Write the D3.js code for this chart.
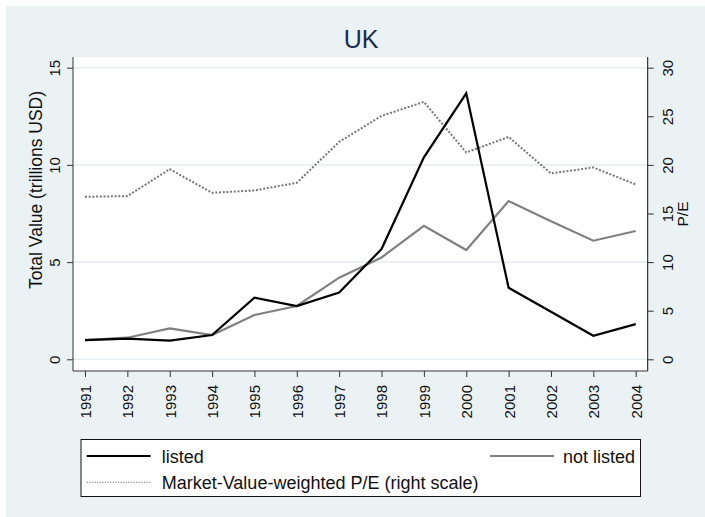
<!DOCTYPE html>
<html>
<head>
<meta charset="utf-8">
<script src="https://cdn.jsdelivr.net/npm/d3@7"></script>
<style>
  html, body { margin: 0; padding: 0; background: #ffffff; }
  svg { display: block; }
  text { font-family: "Liberation Sans", Arial, Helvetica, sans-serif; }
</style>
</head>
<body>
<svg id="chart" width="705" height="517"></svg>
<script>
// ---- data ----
const years = [1991, 1992, 1993, 1994, 1995, 1996, 1997, 1998, 1999, 2000, 2001, 2002, 2003, 2004];
const listed = [0.99, 1.06, 0.96, 1.25, 3.17, 2.74, 3.44, 5.67, 10.39, 13.68, 3.68, 2.45, 1.21, 1.81];
const notListed = [0.99, 1.11, 1.59, 1.25, 2.28, 2.74, 4.20, 5.24, 6.87, 5.62, 8.14, 7.10, 6.10, 6.60];
const peRatio = [16.72, 16.79, 19.56, 17.13, 17.37, 18.16, 22.37, 25.04, 26.48, 21.28, 22.88, 19.12, 19.74, 17.99];
const leftTicks = [0, 5, 10, 15];
const rightTicks = [0, 5, 10, 15, 20, 25, 30];
const chartTitle = "UK";
const leftTitle = "Total Value (trillions USD)";
const rightTitle = "P/E";
const legendLabels = ["listed", "not listed", "Market-Value-weighted P/E (right scale)"];

// ---- layout ----
const svg = d3.select("#chart");
const plot = { left: 73, right: 647.7, top: 57, bottom: 371 };
const xPad = 12;

svg.append("rect").attr("x", 6).attr("y", 6).attr("width", 699).attr("height", 511).attr("fill", "#eaf2f3");
svg.append("rect").attr("x", plot.left).attr("y", plot.top)
  .attr("width", plot.right - plot.left).attr("height", plot.bottom - plot.top).attr("fill", "#ffffff");

const x = d3.scaleLinear().domain([d3.min(years), d3.max(years)]).range([plot.left + xPad, plot.right - xPad]);
const yL = d3.scaleLinear().domain([0, 15]).range([359.3, 67.7]);
const yR = d3.scaleLinear().domain([0, 30]).range([359.3, 67.7]);

// gridlines
svg.append("g").selectAll("line").data(leftTicks).join("line")
  .attr("x1", plot.left).attr("x2", plot.right)
  .attr("y1", d => yL(d)).attr("y2", d => yL(d))
  .attr("stroke", "#e5eef2").attr("stroke-width", 1.5);

// title
svg.append("text").attr("x", 361).attr("y", 48).attr("text-anchor", "middle")
  .attr("font-size", 25).attr("fill", "#1c2b50").text(chartTitle);

function styleAxis(g) {
  g.select(".domain").remove();
  g.selectAll(".tick line").attr("stroke", "#333").attr("stroke-width", 1);
  g.selectAll(".tick text").attr("font-size", 15).attr("fill", "#111");
}

// left axis
const gL = svg.append("g").attr("transform", `translate(${plot.left},0)`)
  .call(d3.axisLeft(yL).tickValues(leftTicks).tickSize(6).tickFormat(d3.format("d")));
styleAxis(gL);
gL.selectAll(".tick text").attr("x", null).attr("dy", null).attr("text-anchor", "middle")
  .attr("transform", "translate(-13.5,0) rotate(-90)");
gL.append("line").attr("x1", 0).attr("x2", 0).attr("y1", plot.top).attr("y2", plot.bottom)
  .attr("stroke", "#333").attr("stroke-width", 1);

// right axis
const gR = svg.append("g").attr("transform", `translate(${plot.right},0)`)
  .call(d3.axisRight(yR).tickValues(rightTicks).tickSize(6).tickFormat(d3.format("d")));
styleAxis(gR);
gR.selectAll(".tick text").attr("x", null).attr("dy", null).attr("text-anchor", "middle")
  .attr("transform", "translate(25,0) rotate(-90)");
gR.append("line").attr("x1", 0).attr("x2", 0).attr("y1", plot.top).attr("y2", plot.bottom)
  .attr("stroke", "#111").attr("stroke-width", 1);

// bottom axis
const gB = svg.append("g").attr("transform", `translate(0,${plot.bottom})`)
  .call(d3.axisBottom(x).tickValues(years).tickSize(6).tickFormat(d3.format("d")));
styleAxis(gB);
gB.selectAll(".tick text").attr("y", null).attr("dy", null).attr("text-anchor", "end")
  .attr("transform", "translate(5.4,14) rotate(-90)");
gB.append("line").attr("x1", plot.left).attr("x2", plot.right).attr("y1", 0).attr("y2", 0)
  .attr("stroke", "#333").attr("stroke-width", 1);

// axis titles
svg.append("text").attr("transform", "translate(41.8,190) rotate(-90)")
  .attr("text-anchor", "middle").attr("font-size", 17.5).attr("fill", "#111").text(leftTitle);
svg.append("text").attr("transform", "translate(688,214) rotate(-90)")
  .attr("text-anchor", "middle").attr("font-size", 15.5).attr("fill", "#111").text(rightTitle);

// lines
const lineL = d3.line().x((d, i) => x(years[i])).y(d => yL(d));
const lineR = d3.line().x((d, i) => x(years[i])).y(d => yR(d));

svg.append("path").datum(peRatio).attr("d", lineR).attr("fill", "none")
  .attr("stroke", "#777").attr("stroke-width", 2).attr("stroke-dasharray", "2,1.7");
svg.append("path").datum(notListed).attr("d", lineL).attr("fill", "none")
  .attr("stroke", "#808080").attr("stroke-width", 2.2).attr("stroke-linejoin", "miter");
svg.append("path").datum(listed).attr("d", lineL).attr("fill", "none")
  .attr("stroke", "#000").attr("stroke-width", 2.2).attr("stroke-linejoin", "miter");

// legend
const lg = svg.append("g");
lg.append("rect").attr("x", 81).attr("y", 439.5).attr("width", 559.5).attr("height", 57)
  .attr("fill", "#fff").attr("stroke", "#111").attr("stroke-width", 1);
lg.append("line").attr("x1", 86.7).attr("x2", 150.7).attr("y1", 456).attr("y2", 456)
  .attr("stroke", "#000").attr("stroke-width", 2);
lg.append("text").attr("x", 161.7).attr("y", 463).attr("font-size", 18).attr("fill", "#111").text(legendLabels[0]);
lg.append("line").attr("x1", 490).attr("x2", 554).attr("y1", 456).attr("y2", 456)
  .attr("stroke", "#808080").attr("stroke-width", 2);
lg.append("text").attr("x", 635).attr("y", 463).attr("text-anchor", "end").attr("font-size", 18).attr("fill", "#111").text(legendLabels[1]);
lg.append("line").attr("x1", 86.7).attr("x2", 150.7).attr("y1", 482.3).attr("y2", 482.3)
  .attr("stroke", "#888").attr("stroke-width", 1.2).attr("stroke-dasharray", "1.2,1.4");
lg.append("text").attr("x", 161.7).attr("y", 488.5).attr("font-size", 18).attr("fill", "#111").text(legendLabels[2]);
</script>
</body>
</html>
